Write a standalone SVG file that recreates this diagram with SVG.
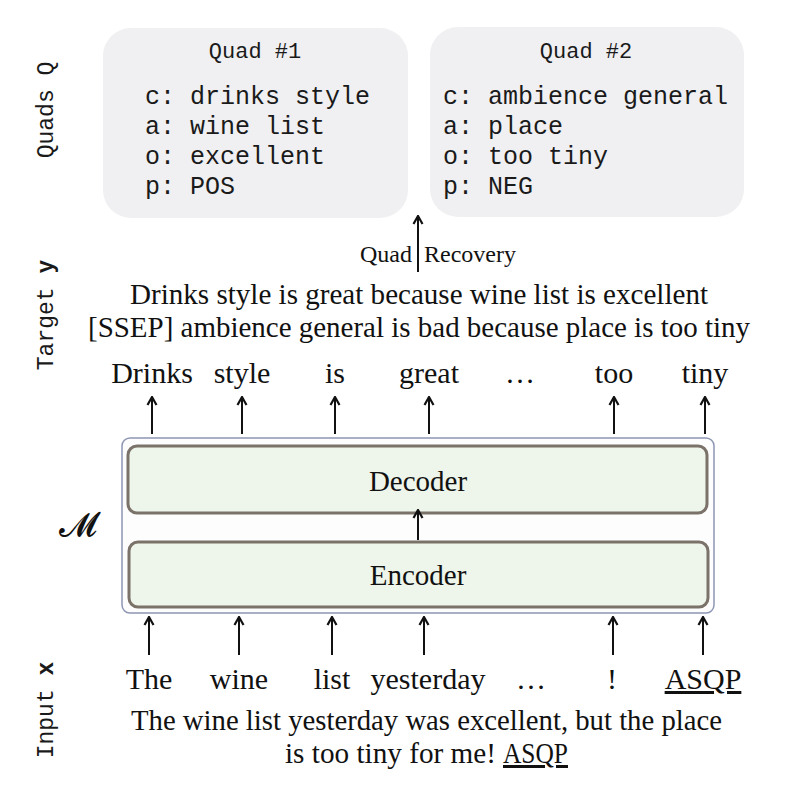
<svg xmlns="http://www.w3.org/2000/svg" width="804" height="791" viewBox="0 0 804 791">
<defs>
<marker id="head" markerWidth="12" markerHeight="12" refX="11" refY="6" orient="auto" markerUnits="userSpaceOnUse" viewBox="0 0 12 12">
<path d="M3,1.5 L11,6 L3,10.5" fill="none" stroke="#111" stroke-width="2.2"/>
</marker>
<style>
.quad{fill:#f0f0f2;stroke:none}
.mono{font-family:"Liberation Mono","DejaVu Sans Mono",monospace;fill:#1a1a1a}
.serif{font-family:"Liberation Serif","DejaVu Serif",serif;fill:#111}
.arr{stroke:#111;stroke-width:2;fill:none;marker-end:url(#head)}
.blk{fill:#eef5ea;stroke:#7b726a;stroke-width:3}
</style>
</defs>
<rect width="804" height="791" fill="#fff"/>

<g id="labels">
<text class="mono" font-size="23" transform="translate(53,110) rotate(-90)" text-anchor="middle">Quads Q</text>
<text class="mono" font-size="23" transform="translate(53,315) rotate(-90)" text-anchor="middle">Target <tspan font-weight="bold">y</tspan></text>
<text class="mono" font-size="23" transform="translate(53,710) rotate(-90)" text-anchor="middle">Input <tspan font-weight="bold">x</tspan></text>
</g>

<g id="quad1">
<rect class="quad" x="103" y="28" width="305" height="190" rx="28"/>
<text class="mono" font-size="22" x="255" y="58" text-anchor="middle">Quad #1</text>
<text class="mono" font-size="25" x="145" y="104">c: drinks style</text>
<text class="mono" font-size="25" x="145" y="134">a: wine list</text>
<text class="mono" font-size="25" x="145" y="164">o: excellent</text>
<text class="mono" font-size="25" x="145" y="194">p: POS</text>
</g>

<g id="quad2">
<rect class="quad" x="430" y="27" width="314" height="190" rx="28"/>
<text class="mono" font-size="22" x="586" y="58" text-anchor="middle">Quad #2</text>
<text class="mono" font-size="25" x="443" y="104">c: ambience general</text>
<text class="mono" font-size="25" x="443" y="134">a: place</text>
<text class="mono" font-size="25" x="443" y="164">o: too tiny</text>
<text class="mono" font-size="25" x="443" y="194">p: NEG</text>
</g>

<g id="recovery">
<text class="serif" font-size="23" x="412" y="262" text-anchor="end" textLength="52" lengthAdjust="spacingAndGlyphs">Quad</text>
<text class="serif" font-size="23" x="424" y="262" textLength="92" lengthAdjust="spacingAndGlyphs">Recovery</text>
</g>

<g id="target">
<text class="serif" font-size="30" x="130" y="304" textLength="578" lengthAdjust="spacingAndGlyphs">Drinks style is great because wine list is excellent</text>
<text class="serif" font-size="30" x="88" y="337" textLength="662" lengthAdjust="spacingAndGlyphs">[SSEP] ambience general is bad because place is too tiny</text>
<text class="serif" font-size="30" y="383" text-anchor="middle"><tspan x="152">Drinks</tspan><tspan x="242">style</tspan><tspan x="335">is</tspan><tspan x="429">great</tspan><tspan x="520">…</tspan><tspan x="614">too</tspan><tspan x="705">tiny</tspan></text>
</g>

<g id="model">
<rect x="122" y="438" width="592" height="175" rx="8" fill="#fdfdfd" stroke="#8d96b3" stroke-width="1.5"/>
<text x="78" y="536" font-family="'DejaVu Serif','Liberation Serif',serif" font-size="34" fill="#111" text-anchor="middle">𝓜</text>
</g>

<g id="decoder">
<rect class="blk" x="128" y="446" width="579" height="67" rx="9"/>
<text class="serif" font-size="29" x="418" y="491" text-anchor="middle">Decoder</text>
</g>

<g id="encoder">
<rect class="blk" x="129" y="542" width="579" height="65" rx="9"/>
<text class="serif" font-size="29" x="418" y="585" text-anchor="middle">Encoder</text>
</g>

<g id="inputs">
<text class="serif" font-size="30" y="689" text-anchor="middle"><tspan x="149">The</tspan><tspan x="239">wine</tspan><tspan x="332">list</tspan><tspan x="428">yesterday</tspan><tspan x="531">…</tspan><tspan x="612">!</tspan><tspan x="703" text-decoration="underline">ASQP</tspan></text>
<text class="serif" font-size="30" x="131" y="730" textLength="591" lengthAdjust="spacingAndGlyphs">The wine list yesterday was excellent, but the place</text>
<text class="serif" font-size="30" x="285" y="763" textLength="211" lengthAdjust="spacingAndGlyphs">is too tiny for me!</text>
<text class="serif" font-size="30" x="503" y="763" textLength="65" lengthAdjust="spacingAndGlyphs" text-decoration="underline">ASQP</text>
</g>

<g id="connectors">
<line class="arr" x1="418" y1="272" x2="418" y2="216"/>
<line class="arr" x1="152" y1="434" x2="152" y2="397"/>
<line class="arr" x1="242" y1="434" x2="242" y2="397"/>
<line class="arr" x1="335" y1="434" x2="335" y2="397"/>
<line class="arr" x1="429" y1="434" x2="429" y2="397"/>
<line class="arr" x1="614" y1="434" x2="614" y2="397"/>
<line class="arr" x1="705" y1="434" x2="705" y2="397"/>
<line class="arr" x1="418" y1="540" x2="418" y2="510" stroke-width="3"/>
<line class="arr" x1="149" y1="655" x2="149" y2="617"/>
<line class="arr" x1="239" y1="655" x2="239" y2="617"/>
<line class="arr" x1="332" y1="655" x2="332" y2="617"/>
<line class="arr" x1="424" y1="655" x2="424" y2="617"/>
<line class="arr" x1="613" y1="655" x2="613" y2="617"/>
<line class="arr" x1="703" y1="655" x2="703" y2="617"/>
</g>
</svg>
